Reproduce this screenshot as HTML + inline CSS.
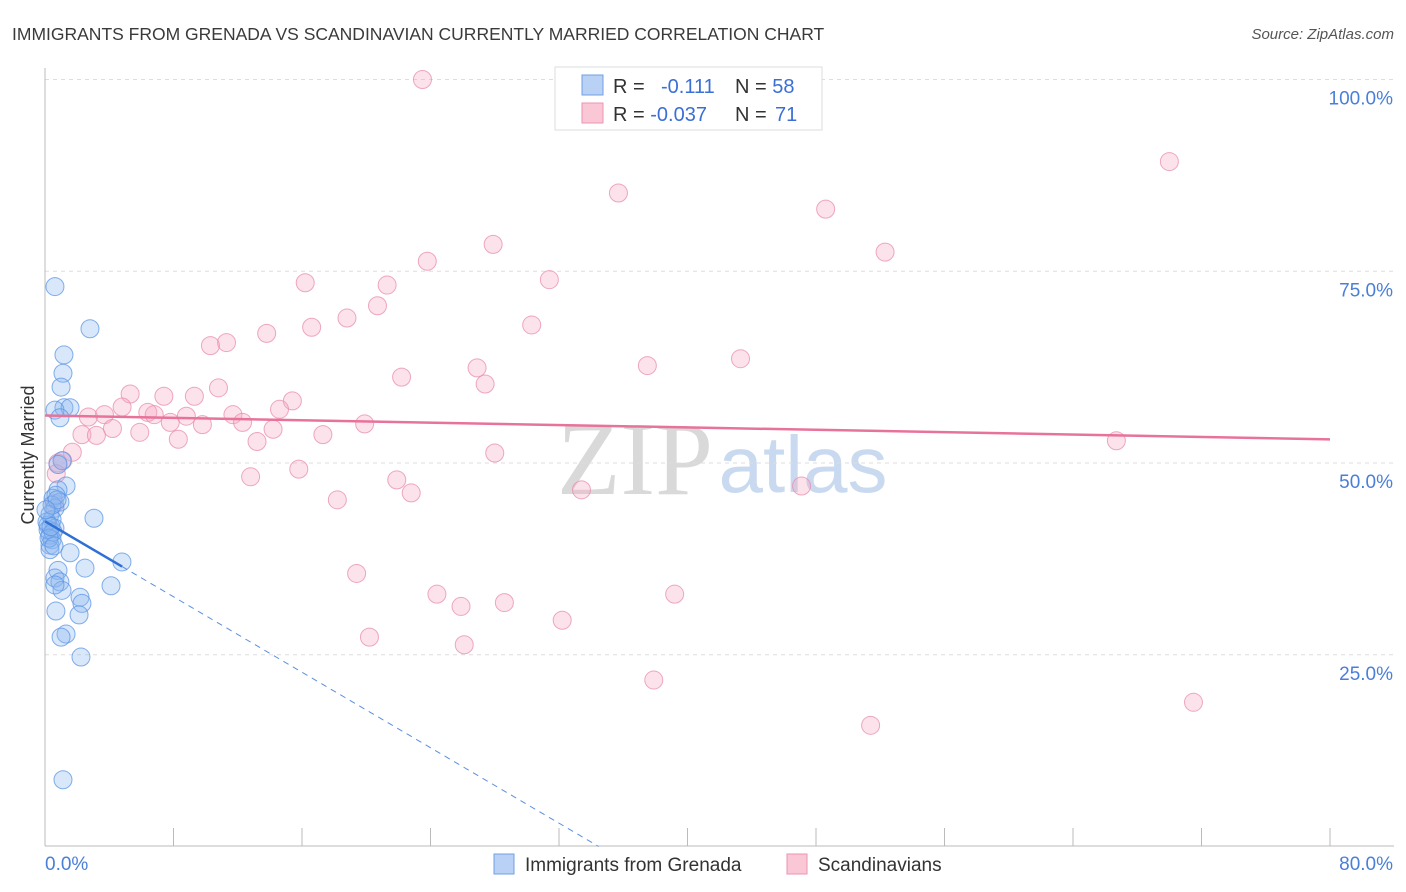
<!DOCTYPE html>
<html><head><meta charset="utf-8"><style>
body{margin:0;background:#fff;font-family:"Liberation Sans",sans-serif;}
#wrap{position:relative;width:1406px;height:892px;overflow:hidden;}
</style></head><body>
<div id="wrap">
<svg id="svg" width="1406" height="892" xmlns="http://www.w3.org/2000/svg">
<text x="12" y="40" font-size="17.5" fill="#3a3a3a">IMMIGRANTS FROM GRENADA VS SCANDINAVIAN CURRENTLY MARRIED CORRELATION CHART</text>
<text x="1394" y="39" font-size="15" fill="#555" font-style="italic" text-anchor="end">Source: ZipAtlas.com</text>
<g>
<text x="635" y="494" font-size="104" font-family="Liberation Serif,serif" fill="#d9d9d9" text-anchor="middle">ZIP</text>
<text x="803" y="492" font-size="80" fill="#c9daf0" text-anchor="middle">atlas</text>
</g>
<g id="grid"></g>
<g id="axes"></g>
<g id="pts"></g>
<g id="trend"></g>
<g>
<rect x="555" y="67" width="267" height="63" fill="#fff" stroke="#ddd"/>
<rect x="582" y="75" width="21" height="20" fill="#b8d1f5" stroke="#6fa0e6"/>
<rect x="582" y="103" width="21" height="20" fill="#f9c7d6" stroke="#ee93b0"/>
<text x="613" y="93" font-size="20" fill="#333">R = <tspan x="661" fill="#3b6fd4">-0.111</tspan></text>
<text x="735" y="93" font-size="20" fill="#333">N = <tspan fill="#3b6fd4">58</tspan></text>
<text x="613" y="121" font-size="20" fill="#333">R = <tspan fill="#3b6fd4">-0.037</tspan></text>
<text x="735" y="121" font-size="20" fill="#333">N = <tspan x="775" fill="#3b6fd4">71</tspan></text>
</g>
<g>
<rect x="494" y="854" width="20" height="20" fill="#b8d1f5" stroke="#6fa0e6"/>
<text x="525" y="871" font-size="19" fill="#333">Immigrants from Grenada</text>
<rect x="787" y="854" width="20" height="20" fill="#f9c7d6" stroke="#ee93b0"/>
<text x="818" y="871" font-size="19" fill="#333">Scandinavians</text>
</g>
<text transform="translate(34,455) rotate(-90)" font-size="18" fill="#333" text-anchor="middle">Currently Married</text>
</svg>
</div>
<script>
const xTicks=[0,8,16,24,32,40,48,56,64,72,80];
const yTicks=[25,50,75,100];
const yTickLabels=["25.0%","50.0%","75.0%","100.0%"];
const xEndLabels=["0.0%","80.0%"];
const blueX=[0.62,2.80,1.18,1.12,1.00,1.18,1.56,0.62,0.93,1.06,0.81,1.31,0.81,0.50,0.93,0.62,0.31,0.44,0.19,0.62,0.31,0.44,0.31,0.31,1.56,3.05,2.49,4.79,0.81,0.62,0.93,1.06,0.62,4.11,2.18,2.30,0.68,2.12,1.31,1.00,2.24,1.12,0.19,0.44,0.68,0.12,0.50,0.25,0.75,0.56,0.06,0.37];
const blueY=[73.0,67.5,64.1,61.7,59.9,57.2,57.2,56.9,55.9,50.3,49.8,47.0,46.5,45.4,44.9,44.1,43.3,42.6,41.9,41.5,40.6,40.0,39.3,38.7,38.3,42.8,36.3,37.1,36.0,35.0,34.5,33.4,34.1,34.0,32.5,31.7,30.7,30.2,27.7,27.3,24.7,8.7,41.3,44.5,45.8,42.3,41.0,40.2,45.2,39.2,43.9,41.7];
const pinkX=[23.5,70.0,35.7,48.6,27.9,52.3,23.8,31.4,16.2,21.3,20.7,13.8,16.6,18.8,30.3,11.3,10.3,43.3,37.5,26.9,22.2,27.4,10.8,5.3,7.4,9.3,15.4,4.8,14.6,3.7,6.4,2.7,8.8,6.8,11.7,7.8,9.8,12.3,19.9,4.2,5.9,2.3,3.2,14.2,17.3,8.3,13.2,66.7,28.0,1.7,1.1,0.8,15.8,12.8,21.9,18.2,22.8,33.4,47.1,0.7,0.6,19.4,24.4,25.9,28.6,39.2,32.2,20.2,26.1,37.9,51.4,71.5];
const pinkY=[100.0,89.3,85.2,83.1,78.5,77.5,76.3,73.9,73.5,73.2,70.5,66.9,67.7,68.9,68.0,65.7,65.3,63.6,62.7,62.4,61.2,60.3,59.8,59.0,58.7,58.7,58.1,57.3,57.0,56.3,56.6,56.0,56.1,56.3,56.3,55.3,55.0,55.3,55.1,54.5,54.0,53.7,53.6,54.4,53.7,53.1,52.8,52.9,51.3,51.4,50.3,50.0,49.2,48.2,47.8,45.2,46.1,46.5,47.0,48.6,44.7,35.6,32.9,31.3,31.8,32.9,29.5,27.3,26.3,21.7,15.8,18.8];
const blueTrend=[42.4,-1.23];
const blueSolidEnd=4.8;
const pinkTrend=[56.2,-0.039];

const X0=45,X1=1330,Y0=846.5,PXPER=7.67;
const sx=v=>X0+v/80*(X1-X0);
const sy=v=>Y0-v*PXPER;
const NS="http://www.w3.org/2000/svg";
function mk(tag,attrs,parent){const e=document.createElementNS(NS,tag);for(const k in attrs)e.setAttribute(k,attrs[k]);document.getElementById(parent).appendChild(e);return e;}

yTicks.forEach((t,i)=>{
 const g=mk('line',{x1:45,x2:1394,y1:sy(t),y2:sy(t),stroke:'#ddd','stroke-dasharray':'4,4'},'grid');
 
 
 const l=mk('text',{x:1393,y:sy(t)+25,'font-size':19,fill:'#4a7fd8','text-anchor':'end'},'axes');
 l.textContent=yTickLabels[i];
 
 
});
const ax=mk('line',{x1:45,x2:45,y1:68,y2:846,stroke:'#bbb'},'axes');


const bx=mk('line',{x1:45,x2:1394,y1:846,y2:846,stroke:'#bbb'},'axes');


xTicks.forEach(t=>{
 const k=mk('line',{x1:sx(t),x2:sx(t),y1:828,y2:846,stroke:'#bbb'},'axes');
 
 
});
const l0=mk('text',{x:45,y:870,'font-size':19,fill:'#4a7fd8'},'axes');
l0.textContent=xEndLabels[0];


const l1=mk('text',{x:1393,y:870,'font-size':19,fill:'#4a7fd8','text-anchor':'end'},'axes');
l1.textContent=xEndLabels[1];



pinkX.forEach((v,i)=>{
 const c=mk('circle',{cx:sx(v),cy:sy(pinkY[i]),r:9,fill:'rgba(246,168,194,0.33)',stroke:'rgba(232,140,172,0.75)','stroke-width':1},'pts');
 
 
});
blueX.forEach((v,i)=>{
 const c=mk('circle',{cx:sx(v),cy:sy(blueY[i]),r:9,fill:'rgba(140,182,240,0.33)',stroke:'rgba(90,148,228,0.75)','stroke-width':1},'pts');
 
 
});
const pt=mk('line',{x1:sx(0),y1:sy(pinkTrend[0]),x2:sx(80),y2:sy(pinkTrend[0]+pinkTrend[1]*80),stroke:'#e8739a','stroke-width':2.5},'trend');


const bs=mk('line',{x1:sx(0),y1:sy(blueTrend[0]),x2:sx(blueSolidEnd),y2:sy(blueTrend[0]+blueTrend[1]*blueSolidEnd),stroke:'#2f6fd6','stroke-width':2.5},'trend');


const xz=-blueTrend[0]/blueTrend[1];
const bd=mk('line',{x1:sx(blueSolidEnd),y1:sy(blueTrend[0]+blueTrend[1]*blueSolidEnd),x2:sx(xz),y2:sy(0),stroke:'#5a8fe0','stroke-width':1,'stroke-dasharray':'6,5'},'trend');


</script>
</body></html>
